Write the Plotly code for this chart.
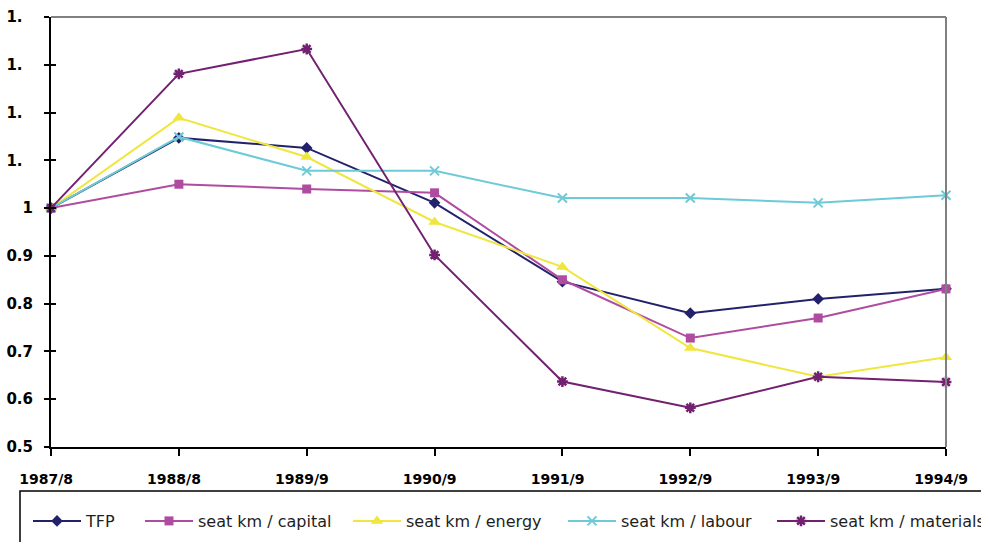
import plotly.graph_objects as go

# Year labels along the x axis
periods = ["1987/8", "1988/8", "1989/9", "1990/9", "1991/9", "1992/9", "1993/9", "1994/9"]

# Productivity indices (1987/8 = 1)
tfp = [1.0, 1.147, 1.126, 1.011, 0.846, 0.780, 0.810, 0.831]
seat_km_capital = [1.0, 1.050, 1.040, 1.032, 0.850, 0.728, 0.770, 0.831]
seat_km_energy = [1.0, 1.189, 1.107, 0.971, 0.877, 0.707, 0.647, 0.688]
seat_km_labour = [1.0, 1.149, 1.078, 1.078, 1.021, 1.021, 1.011, 1.027]
seat_km_materials = [1.0, 1.281, 1.333, 0.902, 0.637, 0.582, 0.647, 0.636]

# Y tick labels (upper ones are clipped to "1.")
y_tickvals = [0.5, 0.6, 0.7, 0.8, 0.9, 1.0, 1.1, 1.2, 1.3, 1.4]
y_ticktext = ["0.5", "0.6", "0.7", "0.8", "0.9", "1", "1.\u2007", "1.\u2007", "1.\u2007", "1.\u2007"]

series = [
    ("TFP", tfp, "#22226c", "diamond", 9, 0),
    ("seat km / capital", seat_km_capital, "#b04ca0", "square", 9, 0),
    ("seat km / energy", seat_km_energy, "#efe63e", "triangle-up", 11, 0),
    ("seat km / labour", seat_km_labour, "#6ecad6", "x-thin-open", 9, 2),
    ("seat km / materials", seat_km_materials, "#722070", "asterisk-open", 9, 2.5),
]

# left edge (px) of each legend entry in the bottom key
legend_left_px = [28, 140, 348, 563, 772]

W, H = 981, 542
fig = go.Figure()
legend_layouts = {}
for i, (name, vals, color, sym, size, lw) in enumerate(series):
    lg = "legend" if i == 0 else f"legend{i + 1}"
    fig.add_trace(go.Scatter(
        x=periods, y=vals, name=name, mode="lines+markers",
        line=dict(color=color, width=2),
        marker=dict(symbol=sym, size=size, color=color,
                    line=dict(color=color, width=lw)),
        cliponaxis=False, legend=lg,
    ))
    legend_layouts[lg] = dict(
        orientation="h", xref="container", yref="container",
        x=legend_left_px[i] / W, xanchor="left",
        y=1 - 521 / H, yanchor="middle",
        bgcolor="rgba(0,0,0,0)", borderwidth=0,
        font=dict(family="DejaVu Sans", size=16, color="#1e1e1e"),
        itemwidth=48,
    )

tick_font_x = dict(family="DejaVu Sans", size=14, color="black", weight="bold")
tick_font_y = dict(family="DejaVu Sans", size=15, color="black", weight="bold")

fig.update_layout(
    width=W, height=H,
    margin=dict(l=51, r=35, t=17, b=95),
    paper_bgcolor="white", plot_bgcolor="white",
    showlegend=True,
    xaxis=dict(
        type="category", range=[0, 7],
        tickvals=periods, ticktext=[p + "\u2007" for p in periods],
        showline=True, linecolor="black", linewidth=2,
        ticks="outside", ticklen=7, tickwidth=2, tickcolor="black",
        ticklabelstandoff=11, automargin=False,
        showgrid=False, zeroline=False, tickfont=tick_font_x,
    ),
    yaxis=dict(
        range=[0.5, 1.4], tickvals=y_tickvals, ticktext=y_ticktext,
        showline=True, linecolor="black", linewidth=2,
        ticks="outside", ticklen=5, tickwidth=2, tickcolor="black",
        ticklabelstandoff=8, automargin=False,
        showgrid=False, zeroline=False, tickfont=tick_font_y,
    ),
    # inside halves of the crossing tick marks
    xaxis2=dict(
        overlaying="x", type="category", range=[0, 7], tickvals=periods,
        showticklabels=False, ticks="inside", ticklen=6, tickwidth=2,
        tickcolor="black", showgrid=False, zeroline=False, showline=False,
        anchor="y", automargin=False,
    ),
    yaxis2=dict(
        overlaying="y", range=[0.5, 1.4], tickvals=y_tickvals,
        showticklabels=False, ticks="inside", ticklen=5, tickwidth=2,
        tickcolor="black", showgrid=False, zeroline=False, showline=False,
        anchor="x", automargin=False,
    ),
    shapes=[
        # grey top and right frame
        dict(type="line", xref="paper", yref="paper", x0=0, x1=1, y0=1, y1=1,
             line=dict(color="#808080", width=2)),
        dict(type="line", xref="paper", yref="paper", x0=1, x1=1, y0=0, y1=1,
             line=dict(color="#808080", width=2)),
        # key box at the bottom
        dict(type="rect", xref="paper", yref="paper",
             x0=(20 - 51) / 895, x1=1.2, y0=(447 - 491) / 430, y1=-0.4,
             line=dict(color="black", width=1.5), fillcolor="rgba(0,0,0,0)",
             layer="below"),
    ],
    **legend_layouts,
)

# helper trace so the overlay axes are drawn
fig.add_trace(go.Scatter(x=[periods[0]], y=[None], xaxis="x2", yaxis="y2",
                         showlegend=False, hoverinfo="skip", mode="markers"))

fig.write_html("out.html")
